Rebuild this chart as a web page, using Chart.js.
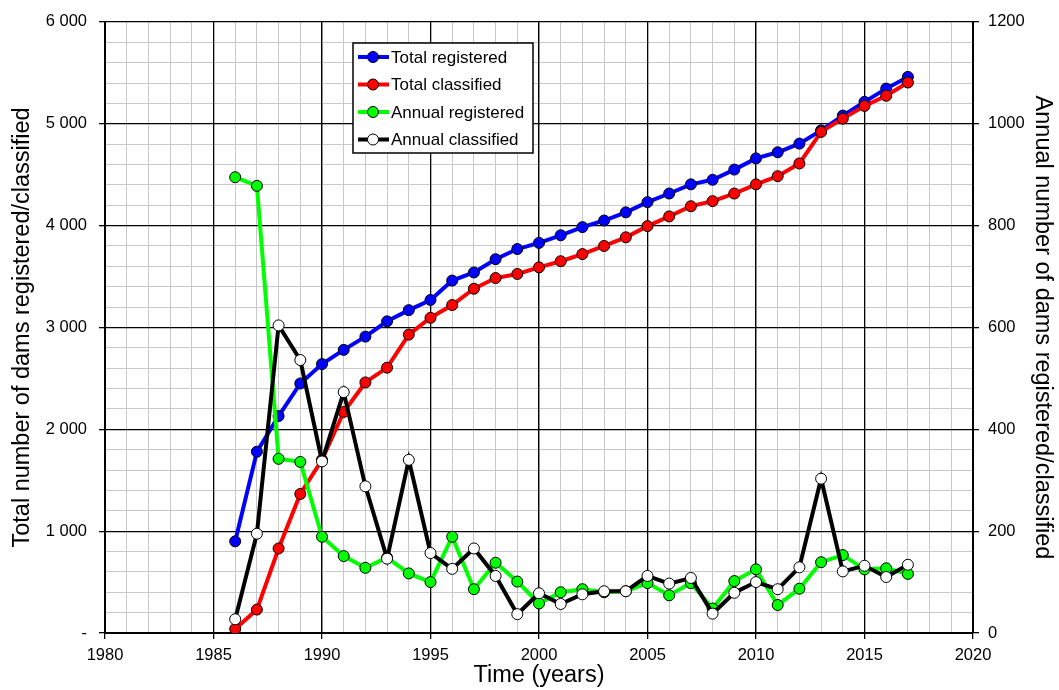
<!DOCTYPE html>
<html>
<head>
<meta charset="utf-8">
<script src="https://cdn.jsdelivr.net/npm/chart.js@4.4.0/dist/chart.umd.min.js"></script>
<style>
  html, body { margin: 0; padding: 0; background: #fff; }
  #wrap { width: 1059px; height: 690px; position: relative; }
</style>
</head>
<body>
<div id="wrap"><canvas id="c" width="1059" height="690"></canvas></div>
<script>
const years = [1986,1987,1988,1989,1990,1991,1992,1993,1994,1995,1996,1997,1998,1999,2000,2001,2002,2003,2004,2005,2006,2007,2008,2009,2010,2011,2012,2013,2014,2015,2016,2017];
const totalRegistered = [900,1780,2130,2450,2640,2780,2910,3060,3170,3270,3460,3540,3670,3770,3830,3905,3985,4050,4130,4230,4315,4405,4450,4550,4660,4720,4805,4935,5080,5215,5345,5460];
const totalClassified = [40,230,830,1365,1700,2170,2460,2605,2930,3095,3220,3380,3485,3525,3590,3650,3720,3800,3885,3995,4090,4190,4240,4315,4405,4485,4610,4920,5050,5175,5275,5405];
const annualRegistered = [895,878,342,336,189,151,128,148,117,100,189,86,138,101,58,80,86,80,82,98,74,98,48,102,125,55,87,139,153,125,127,116];
const annualClassified = [27,195,604,536,337,473,288,146,340,157,126,166,112,37,78,57,76,82,82,112,97,108,38,79,100,86,129,303,121,132,110,134];
const leftTicks = {0:'-',1000:'1 000',2000:'2 000',3000:'3 000',4000:'4 000',5000:'5 000',6000:'6 000'};

const FONT = "'Liberation Sans', Arial, sans-serif";
const pts = (arr) => arr.map((v, i) => ({x: years[i], y: v}));

const legendPlugin = {
  id: 'boxLegend',
  afterDraw(chart) {
    const ctx = chart.ctx;
    const items = chart.data.datasets;
    const x0 = 353, y0 = 43, w = 180, h = 110;
    ctx.save();
    ctx.fillStyle = '#fff';
    ctx.fillRect(x0, y0, w, h);
    ctx.strokeStyle = '#000';
    ctx.lineWidth = 1.5;
    ctx.strokeRect(x0, y0, w, h);
    ctx.font = "17px " + FONT;
    ctx.textBaseline = 'middle';
    ctx.textAlign = 'left';
    items.forEach((ds, i) => {
      const y = y0 + 14 + i * 27.5;
      ctx.strokeStyle = ds.borderColor;
      ctx.lineWidth = 4;
      ctx.beginPath(); ctx.moveTo(358, y); ctx.lineTo(389, y); ctx.stroke();
      ctx.beginPath(); ctx.arc(373, y, 5.5, 0, Math.PI * 2);
      ctx.fillStyle = ds.pointBackgroundColor; ctx.fill();
      ctx.lineWidth = 1; ctx.strokeStyle = '#000'; ctx.stroke();
      ctx.fillStyle = '#000';
      ctx.fillText(ds.label, 391, y + 1);
    });
    ctx.restore();
  }
};

const common = { borderWidth: 4, pointRadius: 5.5, pointHoverRadius: 5.5, pointBorderColor: '#000', pointBorderWidth: 1, tension: 0 };

new Chart(document.getElementById('c'), {
  type: 'line',
  data: {
    datasets: [
      Object.assign({ label: 'Total registered', data: pts(totalRegistered), borderColor: '#0000ff', pointBackgroundColor: '#0000ff', yAxisID: 'y', order: 4 }, common),
      Object.assign({ label: 'Total classified', data: pts(totalClassified), borderColor: '#ff0000', pointBackgroundColor: '#ff0000', yAxisID: 'y', order: 3 }, common),
      Object.assign({ label: 'Annual registered', data: pts(annualRegistered), borderColor: '#00ff00', pointBackgroundColor: '#00ff00', yAxisID: 'y1', order: 2 }, common),
      Object.assign({ label: 'Annual classified', data: pts(annualClassified), borderColor: '#000000', pointBackgroundColor: '#ffffff', yAxisID: 'y1', order: 1 }, common)
    ]
  },
  options: {
    responsive: false,
    animation: false,
    layout: { padding: { top: 20, left: 0, right: 0, bottom: 0 } },
    plugins: { legend: { display: false }, tooltip: { enabled: false } },
    scales: {
      xm: {
        type: 'linear', position: 'bottom', min: 1980, max: 2020,
        ticks: { display: false, stepSize: 1 },
        grid: { color: '#c8c8c8', lineWidth: 1, drawTicks: false, z: -2 },
        border: { display: false },
        afterFit(s) { s.height = 0; }
      },
      ym: {
        type: 'linear', position: 'left', min: 0, max: 6000,
        ticks: { display: false, stepSize: 200 },
        grid: { color: '#c8c8c8', lineWidth: 1, drawTicks: false, z: -2 },
        border: { display: false },
        afterFit(s) { s.width = 0; }
      },
      x: {
        type: 'linear', position: 'bottom', min: 1980, max: 2020,
        ticks: { stepSize: 5, color: '#000', font: { family: FONT, size: 16.5 }, padding: 7, maxRotation: 0, callback: v => String(v) },
        grid: { color: '#000', lineWidth: 1.3, tickLength: 6, tickColor: '#000', z: -1 },
        border: { color: '#000', width: 2 },
        title: { display: true, text: 'Time (years)', color: '#000', font: { family: FONT, size: 23.5 }, padding: { top: 0, bottom: 0 } },
        afterFit(s) { s.height = 57; }
      },
      y: {
        type: 'linear', position: 'left', min: 0, max: 6000,
        ticks: { stepSize: 1000, color: '#000', font: { family: FONT, size: 16.5 }, padding: 12, callback: v => leftTicks[v] !== undefined ? leftTicks[v] : '' },
        grid: { color: '#000', lineWidth: 1.3, tickLength: 6, tickColor: '#000', z: -1 },
        border: { color: '#000', width: 2 },
        title: { display: true, text: 'Total number of dams registered/classified', color: '#000', font: { family: FONT, size: 23.5 }, padding: { top: 8, bottom: 4 } },
        afterFit(s) { s.width = 105; }
      },
      y1: {
        type: 'linear', position: 'right', min: 0, max: 1200,
        ticks: { stepSize: 200, color: '#000', font: { family: FONT, size: 16.5 }, padding: 9, callback: v => String(v) },
        grid: { drawOnChartArea: false, tickLength: 6, tickColor: '#000', lineWidth: 1.3 },
        border: { color: '#000', width: 2 },
        title: { display: true, text: 'Annual number of dams registered/classified', color: '#000', font: { family: FONT, size: 23.5 }, padding: { top: 2, bottom: 0 } },
        afterFit(s) { s.width = 86; }
      }
    }
  },
  plugins: [legendPlugin]
});
</script>
</body>
</html>
